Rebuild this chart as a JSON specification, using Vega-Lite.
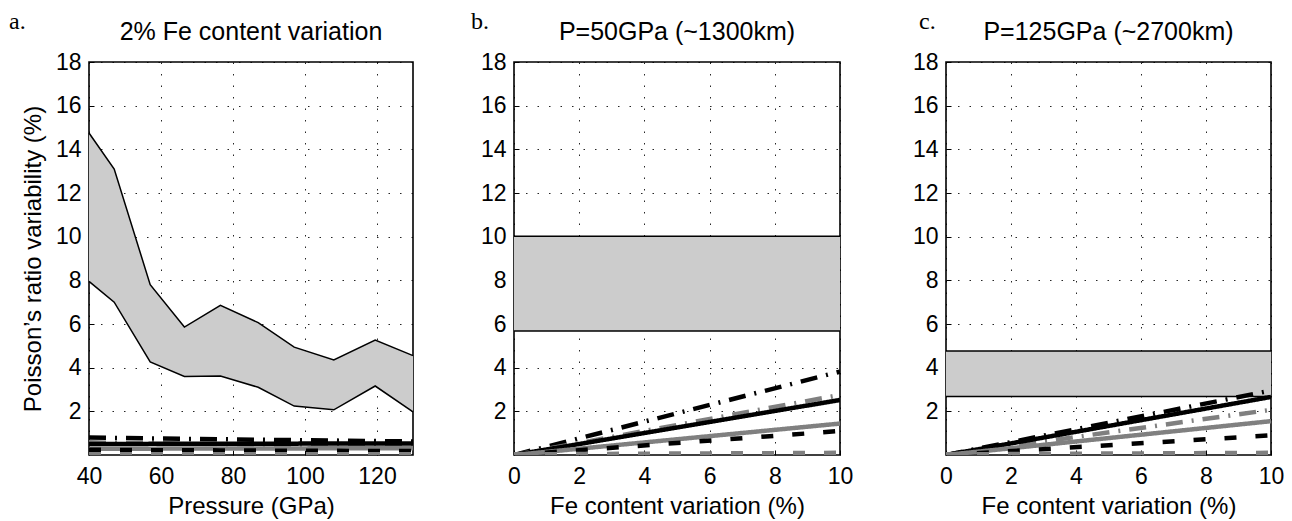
{
  "$schema": "https://vega.github.io/schema/vega-lite/v6.json",
  "padding": {"left": 8, "top": 9, "right": 0, "bottom": 0},
  "background": "white",
  "config": {
    "view": {"stroke": "black", "strokeWidth": 1.6},
    "font": "Liberation Sans",
    "axis": {
      "labelFont": "Liberation Sans", "labelFontSize": 23, "labelColor": "black", "labelFlush": false, "labelOverlap": false,
      "titleFont": "Liberation Sans", "titleFontSize": 24, "titleFontWeight": "normal", "titleColor": "black",
      "domain": false, "ticks": true, "tickSize": -5, "tickColor": "black", "tickWidth": 1,
      "grid": true, "gridColor": "black", "gridDash": [1.5, 10], "gridWidth": 1, "gridOpacity": 0.85,
      "labelPadding": 13
    },
    "axisX": {"labelPadding": 15, "titlePadding": 6},
    "axisY": {"titlePadding": 10}
  },
  "datasets": {
    "band": [
      {"panel": "a", "x": 40, "lo": 7.95, "hi": 14.75},
      {"panel": "a", "x": 47, "lo": 7.0, "hi": 13.1},
      {"panel": "a", "x": 57, "lo": 4.26, "hi": 7.8},
      {"panel": "a", "x": 66.5, "lo": 3.6, "hi": 5.86},
      {"panel": "a", "x": 76.5, "lo": 3.62, "hi": 6.85},
      {"panel": "a", "x": 87, "lo": 3.1, "hi": 6.06},
      {"panel": "a", "x": 97, "lo": 2.24, "hi": 4.94},
      {"panel": "a", "x": 108, "lo": 2.07, "hi": 4.35},
      {"panel": "a", "x": 119.5, "lo": 3.16, "hi": 5.26},
      {"panel": "a", "x": 130, "lo": 1.97, "hi": 4.55},
      {"panel": "b", "x": 0, "lo": 5.68, "hi": 10.02},
      {"panel": "b", "x": 10, "lo": 5.68, "hi": 10.02},
      {"panel": "c", "x": 0, "lo": 2.68, "hi": 4.76},
      {"panel": "c", "x": 10, "lo": 2.68, "hi": 4.76}
    ],
    "curves": [
      {"panel": "a", "series": "bdd", "x": 40, "y": 0.8}, {"panel": "a", "series": "bdd", "x": 47, "y": 0.78}, {"panel": "a", "series": "bdd", "x": 57, "y": 0.76}, {"panel": "a", "series": "bdd", "x": 66.5, "y": 0.74}, {"panel": "a", "series": "bdd", "x": 76.5, "y": 0.72}, {"panel": "a", "series": "bdd", "x": 87, "y": 0.7}, {"panel": "a", "series": "bdd", "x": 97, "y": 0.68}, {"panel": "a", "series": "bdd", "x": 108, "y": 0.66}, {"panel": "a", "series": "bdd", "x": 119.5, "y": 0.64}, {"panel": "a", "series": "bdd", "x": 130, "y": 0.62},
      {"panel": "a", "series": "gdd", "x": 40, "y": 0.58}, {"panel": "a", "series": "gdd", "x": 47, "y": 0.56}, {"panel": "a", "series": "gdd", "x": 57, "y": 0.54}, {"panel": "a", "series": "gdd", "x": 66.5, "y": 0.52}, {"panel": "a", "series": "gdd", "x": 76.5, "y": 0.5}, {"panel": "a", "series": "gdd", "x": 87, "y": 0.48}, {"panel": "a", "series": "gdd", "x": 97, "y": 0.46}, {"panel": "a", "series": "gdd", "x": 108, "y": 0.45}, {"panel": "a", "series": "gdd", "x": 119.5, "y": 0.43}, {"panel": "a", "series": "gdd", "x": 130, "y": 0.42},
      {"panel": "a", "series": "bs", "x": 40, "y": 0.5}, {"panel": "a", "series": "bs", "x": 47, "y": 0.5}, {"panel": "a", "series": "bs", "x": 57, "y": 0.51}, {"panel": "a", "series": "bs", "x": 66.5, "y": 0.51}, {"panel": "a", "series": "bs", "x": 76.5, "y": 0.52}, {"panel": "a", "series": "bs", "x": 87, "y": 0.52}, {"panel": "a", "series": "bs", "x": 97, "y": 0.52}, {"panel": "a", "series": "bs", "x": 108, "y": 0.53}, {"panel": "a", "series": "bs", "x": 119.5, "y": 0.53}, {"panel": "a", "series": "bs", "x": 130, "y": 0.53},
      {"panel": "a", "series": "gs", "x": 40, "y": 0.28}, {"panel": "a", "series": "gs", "x": 47, "y": 0.29}, {"panel": "a", "series": "gs", "x": 57, "y": 0.29}, {"panel": "a", "series": "gs", "x": 66.5, "y": 0.3}, {"panel": "a", "series": "gs", "x": 76.5, "y": 0.3}, {"panel": "a", "series": "gs", "x": 87, "y": 0.3}, {"panel": "a", "series": "gs", "x": 97, "y": 0.3}, {"panel": "a", "series": "gs", "x": 108, "y": 0.31}, {"panel": "a", "series": "gs", "x": 119.5, "y": 0.31}, {"panel": "a", "series": "gs", "x": 130, "y": 0.31},
      {"panel": "a", "series": "bd", "x": 40, "y": 0.24}, {"panel": "a", "series": "bd", "x": 47, "y": 0.23}, {"panel": "a", "series": "bd", "x": 57, "y": 0.22}, {"panel": "a", "series": "bd", "x": 66.5, "y": 0.22}, {"panel": "a", "series": "bd", "x": 76.5, "y": 0.21}, {"panel": "a", "series": "bd", "x": 87, "y": 0.2}, {"panel": "a", "series": "bd", "x": 97, "y": 0.2}, {"panel": "a", "series": "bd", "x": 108, "y": 0.19}, {"panel": "a", "series": "bd", "x": 119.5, "y": 0.18}, {"panel": "a", "series": "bd", "x": 130, "y": 0.18},
      {"panel": "a", "series": "gd", "x": 40, "y": 0.04}, {"panel": "a", "series": "gd", "x": 47, "y": 0.04}, {"panel": "a", "series": "gd", "x": 57, "y": 0.04}, {"panel": "a", "series": "gd", "x": 66.5, "y": 0.04}, {"panel": "a", "series": "gd", "x": 76.5, "y": 0.04}, {"panel": "a", "series": "gd", "x": 87, "y": 0.04}, {"panel": "a", "series": "gd", "x": 97, "y": 0.04}, {"panel": "a", "series": "gd", "x": 108, "y": 0.04}, {"panel": "a", "series": "gd", "x": 119.5, "y": 0.04}, {"panel": "a", "series": "gd", "x": 130, "y": 0.04},
      {"panel": "b", "series": "bdd", "x": 0, "y": 0}, {"panel": "b", "series": "bdd", "x": 10, "y": 3.82},
      {"panel": "b", "series": "gdd", "x": 0, "y": 0}, {"panel": "b", "series": "gdd", "x": 10, "y": 2.75},
      {"panel": "b", "series": "bs", "x": 0, "y": 0}, {"panel": "b", "series": "bs", "x": 10, "y": 2.52},
      {"panel": "b", "series": "gs", "x": 0, "y": 0}, {"panel": "b", "series": "gs", "x": 10, "y": 1.44},
      {"panel": "b", "series": "bd", "x": 0, "y": 0}, {"panel": "b", "series": "bd", "x": 10, "y": 1.1},
      {"panel": "b", "series": "gd", "x": 0, "y": 0.03}, {"panel": "b", "series": "gd", "x": 10, "y": 0.1},
      {"panel": "c", "series": "bdd", "x": 0, "y": 0}, {"panel": "c", "series": "bdd", "x": 10, "y": 2.95},
      {"panel": "c", "series": "gdd", "x": 0, "y": 0}, {"panel": "c", "series": "gdd", "x": 10, "y": 2.07},
      {"panel": "c", "series": "bs", "x": 0, "y": 0}, {"panel": "c", "series": "bs", "x": 10, "y": 2.66},
      {"panel": "c", "series": "gs", "x": 0, "y": 0}, {"panel": "c", "series": "gs", "x": 10, "y": 1.55},
      {"panel": "c", "series": "bd", "x": 0, "y": 0}, {"panel": "c", "series": "bd", "x": 10, "y": 0.9},
      {"panel": "c", "series": "gd", "x": 0, "y": 0.03}, {"panel": "c", "series": "gd", "x": 10, "y": 0.1}
    ],
    "labels": [
      {"panel": "a", "label": "a.", "title": "2% Fe content variation"},
      {"panel": "b", "label": "b.", "title": "P=50GPa (~1300km)"},
      {"panel": "c", "label": "c.", "title": "P=125GPa (~2700km)"}
    ]
  },
  "spacing": 101,
  "bounds": "flush",
  "hconcat": [
    {
      "width": 324, "height": 393,
      "layer": [
        {
          "data": {"name": "band"}, "transform": [{"filter": "datum.panel === 'a'"}],
          "mark": {"type": "area", "color": "#cccccc", "opacity": 1},
          "encoding": {
            "x": {"field": "x", "type": "quantitative", "scale": {"domain": [40, 130], "nice": false, "zero": false}, "axis": {"values": [40, 60, 80, 100, 120], "title": "Pressure (GPa)"}},
            "y": {"field": "lo", "type": "quantitative", "scale": {"domain": [0, 18], "nice": false}, "axis": {"values": [2, 4, 6, 8, 10, 12, 14, 16, 18], "title": "Poisson’s ratio variability (%)"}},
            "y2": {"field": "hi"}
          }
        },
        {
          "data": {"name": "band"}, "transform": [{"filter": "datum.panel === 'a'"}],
          "mark": {"type": "line", "color": "black", "strokeWidth": 1.5},
          "encoding": {"x": {"field": "x", "type": "quantitative"}, "y": {"field": "hi", "type": "quantitative"}}
        },
        {
          "data": {"name": "band"}, "transform": [{"filter": "datum.panel === 'a'"}],
          "mark": {"type": "line", "color": "black", "strokeWidth": 1.5},
          "encoding": {"x": {"field": "x", "type": "quantitative"}, "y": {"field": "lo", "type": "quantitative"}}
        },
        {
          "data": {"name": "curves"}, "transform": [{"filter": "datum.panel === 'a'"}],
          "mark": {"type": "line", "clip": true, "strokeCap": "butt"},
          "encoding": {
            "x": {"field": "x", "type": "quantitative"},
            "y": {"field": "y", "type": "quantitative"},
            "color": {"field": "series", "type": "nominal", "scale": {"domain": ["bdd", "gdd", "bs", "gs", "bd", "gd"], "range": ["black", "#808080", "black", "#808080", "black", "#808080"]}, "legend": null},
            "strokeDash": {"field": "series", "type": "nominal", "scale": {"domain": ["bdd", "gdd", "bs", "gs", "bd", "gd"], "range": [[17, 9, 2, 9], [17, 9, 2, 9], [1, 0], [1, 0], [12, 19], [12, 19]]}, "legend": null},
            "strokeWidth": {"field": "series", "type": "ordinal", "scale": {"domain": ["bdd", "gdd", "bs", "gs", "bd", "gd"], "range": [4.5, 4.5, 3.5, 3.5, 5, 5]}, "legend": null}
          }
        },
        {
          "data": {"name": "labels"}, "transform": [{"filter": "datum.panel === 'a'"}],
          "mark": {"type": "text", "font": "Liberation Serif", "fontSize": 24, "align": "left", "baseline": "alphabetic", "dx": -80, "dy": -33, "color": "black"},
          "encoding": {"x": {"datum": 40}, "y": {"datum": 18}, "text": {"field": "label"}}
        },
        {
          "data": {"name": "labels"}, "transform": [{"filter": "datum.panel === 'a'"}],
          "mark": {"type": "text", "font": "Liberation Sans", "fontSize": 25, "align": "center", "baseline": "alphabetic", "dy": -22, "color": "black"},
          "encoding": {"x": {"datum": 85}, "y": {"datum": 18}, "text": {"field": "title"}}
        }
      ]
    },
    {
      "spacing": 106,
      "bounds": "flush",
      "hconcat": [
        {
          "width": 326, "height": 393,
          "layer": [
            {
              "data": {"name": "band"}, "transform": [{"filter": "datum.panel === 'b'"}],
              "mark": {"type": "area", "color": "#cccccc", "opacity": 1},
              "encoding": {
                "x": {"field": "x", "type": "quantitative", "scale": {"domain": [0, 10], "nice": false}, "axis": {"values": [0, 2, 4, 6, 8, 10], "title": "Fe content variation (%)"}},
                "y": {"field": "lo", "type": "quantitative", "scale": {"domain": [0, 18], "nice": false}, "axis": {"values": [2, 4, 6, 8, 10, 12, 14, 16, 18], "title": null}},
                "y2": {"field": "hi"}
              }
            },
            {
              "data": {"name": "band"}, "transform": [{"filter": "datum.panel === 'b'"}],
              "mark": {"type": "line", "color": "black", "strokeWidth": 1.5},
              "encoding": {"x": {"field": "x", "type": "quantitative"}, "y": {"field": "hi", "type": "quantitative"}}
            },
            {
              "data": {"name": "band"}, "transform": [{"filter": "datum.panel === 'b'"}],
              "mark": {"type": "line", "color": "black", "strokeWidth": 1.5},
              "encoding": {"x": {"field": "x", "type": "quantitative"}, "y": {"field": "lo", "type": "quantitative"}}
            },
            {
              "data": {"name": "curves"}, "transform": [{"filter": "datum.panel === 'b'"}],
              "mark": {"type": "line", "clip": true, "strokeCap": "butt"},
              "encoding": {
                "x": {"field": "x", "type": "quantitative"},
                "y": {"field": "y", "type": "quantitative"},
                "color": {"field": "series", "type": "nominal", "scale": {"domain": ["bdd", "gdd", "bs", "gs", "bd", "gd"], "range": ["black", "#808080", "black", "#808080", "black", "#808080"]}, "legend": null},
                "strokeDash": {"field": "series", "type": "nominal", "scale": {"domain": ["bdd", "gdd", "bs", "gs", "bd", "gd"], "range": [[17, 9, 2, 9], [17, 9, 2, 9], [1, 0], [1, 0], [12, 19], [12, 19]]}, "legend": null},
                "strokeWidth": {"field": "series", "type": "ordinal", "scale": {"domain": ["bdd", "gdd", "bs", "gs", "bd", "gd"], "range": [4.5, 4.5, 3.5, 3.5, 5, 5]}, "legend": null}
              }
            },
            {
              "data": {"name": "labels"}, "transform": [{"filter": "datum.panel === 'b'"}],
              "mark": {"type": "text", "font": "Liberation Serif", "fontSize": 24, "align": "left", "baseline": "alphabetic", "dx": -43, "dy": -33, "color": "black"},
              "encoding": {"x": {"datum": 0}, "y": {"datum": 18}, "text": {"field": "label"}}
            },
            {
              "data": {"name": "labels"}, "transform": [{"filter": "datum.panel === 'b'"}],
              "mark": {"type": "text", "font": "Liberation Sans", "fontSize": 25, "align": "center", "baseline": "alphabetic", "dy": -22, "color": "black"},
              "encoding": {"x": {"datum": 5}, "y": {"datum": 18}, "text": {"field": "title"}}
            }
          ]
        },
        {
          "width": 325, "height": 393,
          "layer": [
            {
              "data": {"name": "band"}, "transform": [{"filter": "datum.panel === 'c'"}],
              "mark": {"type": "area", "color": "#cccccc", "opacity": 1},
              "encoding": {
                "x": {"field": "x", "type": "quantitative", "scale": {"domain": [0, 10], "nice": false}, "axis": {"values": [0, 2, 4, 6, 8, 10], "title": "Fe content variation (%)"}},
                "y": {"field": "lo", "type": "quantitative", "scale": {"domain": [0, 18], "nice": false}, "axis": {"values": [2, 4, 6, 8, 10, 12, 14, 16, 18], "title": null}},
                "y2": {"field": "hi"}
              }
            },
            {
              "data": {"name": "band"}, "transform": [{"filter": "datum.panel === 'c'"}],
              "mark": {"type": "line", "color": "black", "strokeWidth": 1.5},
              "encoding": {"x": {"field": "x", "type": "quantitative"}, "y": {"field": "hi", "type": "quantitative"}}
            },
            {
              "data": {"name": "band"}, "transform": [{"filter": "datum.panel === 'c'"}],
              "mark": {"type": "line", "color": "black", "strokeWidth": 1.5},
              "encoding": {"x": {"field": "x", "type": "quantitative"}, "y": {"field": "lo", "type": "quantitative"}}
            },
            {
              "data": {"name": "curves"}, "transform": [{"filter": "datum.panel === 'c'"}],
              "mark": {"type": "line", "clip": true, "strokeCap": "butt"},
              "encoding": {
                "x": {"field": "x", "type": "quantitative"},
                "y": {"field": "y", "type": "quantitative"},
                "color": {"field": "series", "type": "nominal", "scale": {"domain": ["bdd", "gdd", "bs", "gs", "bd", "gd"], "range": ["black", "#808080", "black", "#808080", "black", "#808080"]}, "legend": null},
                "strokeDash": {"field": "series", "type": "nominal", "scale": {"domain": ["bdd", "gdd", "bs", "gs", "bd", "gd"], "range": [[17, 9, 2, 9], [17, 9, 2, 9], [1, 0], [1, 0], [12, 19], [12, 19]]}, "legend": null},
                "strokeWidth": {"field": "series", "type": "ordinal", "scale": {"domain": ["bdd", "gdd", "bs", "gs", "bd", "gd"], "range": [4.5, 4.5, 3.5, 3.5, 5, 5]}, "legend": null}
              }
            },
            {
              "data": {"name": "labels"}, "transform": [{"filter": "datum.panel === 'c'"}],
              "mark": {"type": "text", "font": "Liberation Serif", "fontSize": 24, "align": "left", "baseline": "alphabetic", "dx": -27, "dy": -33, "color": "black"},
              "encoding": {"x": {"datum": 0}, "y": {"datum": 18}, "text": {"field": "label"}}
            },
            {
              "data": {"name": "labels"}, "transform": [{"filter": "datum.panel === 'c'"}],
              "mark": {"type": "text", "font": "Liberation Sans", "fontSize": 25, "align": "center", "baseline": "alphabetic", "dy": -22, "color": "black"},
              "encoding": {"x": {"datum": 5}, "y": {"datum": 18}, "text": {"field": "title"}}
            }
          ]
        }
      ]
    }
  ]
}
